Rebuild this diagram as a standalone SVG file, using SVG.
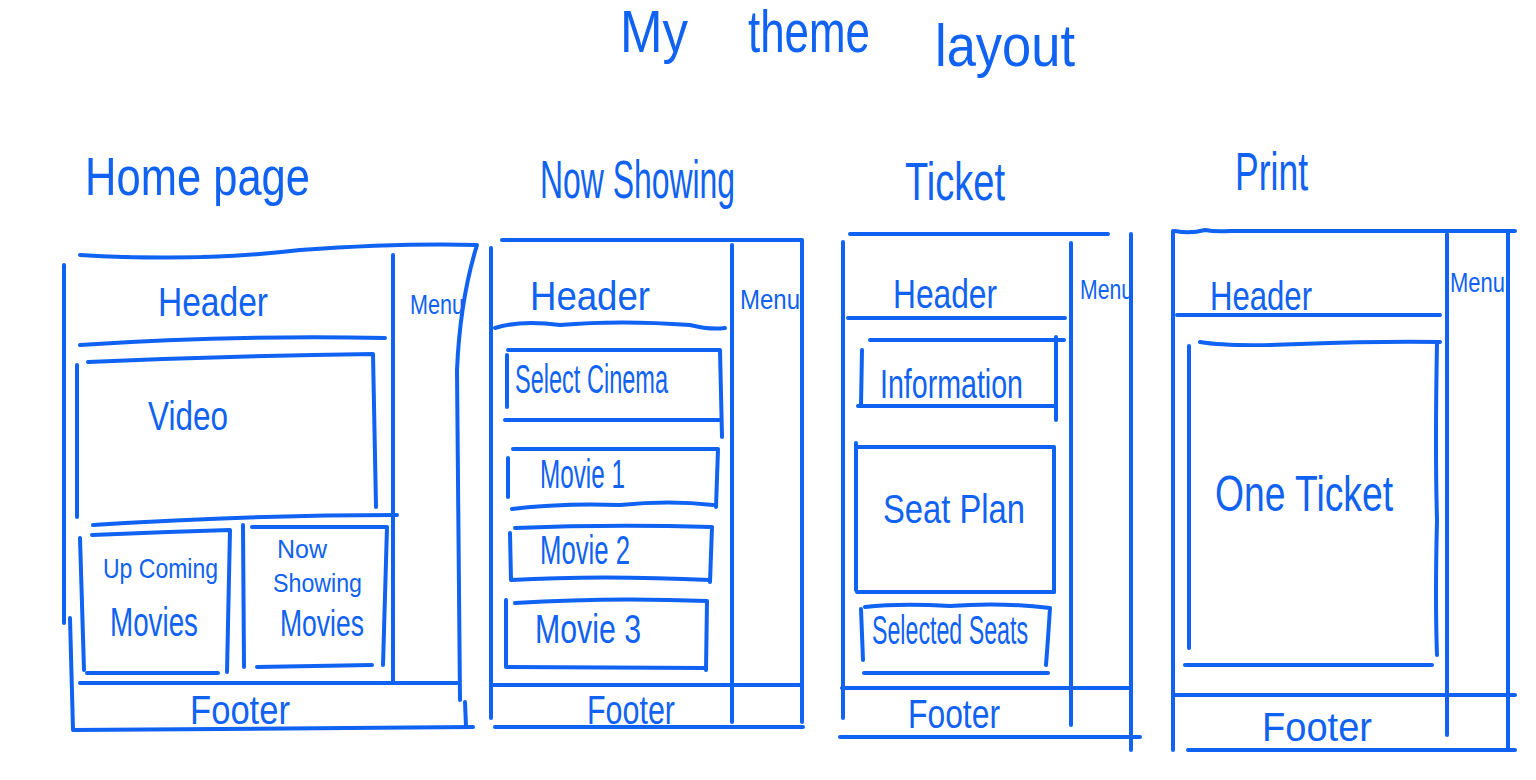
<svg xmlns="http://www.w3.org/2000/svg" width="1536" height="780" viewBox="0 0 1536 780">
  <style>
    .ln { fill: none; stroke: #0f62f2; stroke-width: 4; stroke-linecap: round; stroke-linejoin: round; }
    .tx { fill: #0f62f2; font-family: "Liberation Sans", "DejaVu Sans", sans-serif; }
    .title { font-size: 60px; }
    .page { font-size: 54px; }
    .lbl { font-size: 40px; }
    .sm { font-size: 28px; }
  </style>
  <rect width="1536" height="780" fill="#ffffff"/>

  <!-- Title -->
  <g id="title">
    <text class="tx title" x="620" y="52" textLength="68" lengthAdjust="spacingAndGlyphs">My</text>
    <text class="tx title" x="748" y="52" textLength="122" lengthAdjust="spacingAndGlyphs">theme</text>
    <text class="tx title" x="935" y="66" textLength="140" lengthAdjust="spacingAndGlyphs">layout</text>
  </g>

  <!-- Home page -->
  <g id="home-page">
    <text class="tx page" x="85" y="195" textLength="225" lengthAdjust="spacingAndGlyphs">Home page</text>
    <path class="ln" d="M80 255 Q200 262 300 250 Q400 243 477 245 Q460 300 457 370 L460 700"/>
    <path class="ln" d="M465 702 L466 727"/>
    <path class="ln" d="M64 265 L64 623"/>
    <path class="ln" d="M70 618 L73 730 L473 727"/>
    <path class="ln" d="M393 255 L393 683"/>
    <path class="ln" d="M80 345 Q230 335 385 338"/>
    <text class="tx lbl" x="158" y="316" textLength="110" lengthAdjust="spacingAndGlyphs">Header</text>
    <text class="tx sm" x="410" y="314" textLength="54" lengthAdjust="spacingAndGlyphs">Menu</text>
  </g>
  <g id="home-video">
    <path class="ln" d="M88 362 Q230 356 373 354 L376 507"/>
    <path class="ln" d="M77 365 L77 517"/>
    <text class="tx lbl" x="148" y="430" textLength="80" lengthAdjust="spacingAndGlyphs">Video</text>
    <path class="ln" d="M93 525 Q250 515 397 515"/>
  </g>
  <g id="home-upcoming">
    <path class="ln" d="M92 535 Q160 532 230 530 L227 672"/>
    <path class="ln" d="M80 538 L84 670"/>
    <path class="ln" d="M87 673 L218 673"/>
    <text class="tx sm" x="103" y="578" textLength="115" lengthAdjust="spacingAndGlyphs">Up Coming</text>
    <text class="tx lbl" x="110" y="636" textLength="88" lengthAdjust="spacingAndGlyphs">Movies</text>
  </g>
  <g id="home-nowshowing">
    <path class="ln" d="M252 527 L387 527 L383 665"/>
    <path class="ln" d="M243 525 L244 667"/>
    <path class="ln" d="M257 667 L372 665"/>
    <text class="tx" style="font-size:26px" x="277" y="558" textLength="50" lengthAdjust="spacingAndGlyphs">Now</text>
    <text class="tx" style="font-size:26px" x="273" y="592" textLength="89" lengthAdjust="spacingAndGlyphs">Showing</text>
    <text class="tx" style="font-size:36px" x="280" y="636" textLength="84" lengthAdjust="spacingAndGlyphs">Movies</text>
  </g>
  <g id="home-footer">
    <path class="ln" d="M80 683 L457 683"/>
    <text class="tx lbl" x="190" y="724" textLength="100" lengthAdjust="spacingAndGlyphs">Footer</text>
  </g>

  <!-- Now Showing page -->
  <g id="now-showing-page">
    <text class="tx page" x="540" y="198" textLength="195" lengthAdjust="spacingAndGlyphs">Now Showing</text>
    <path class="ln" d="M502 240 L802 240 L802 722"/>
    <path class="ln" d="M491 248 L491 718"/>
    <path class="ln" d="M732 245 L732 722"/>
    <path class="ln" d="M495 328 Q520 320 560 325 Q620 320 690 325 Q710 330 725 328"/>
    <text class="tx lbl" x="530" y="310" textLength="120" lengthAdjust="spacingAndGlyphs">Header</text>
    <text class="tx sm" x="740" y="309" textLength="60" lengthAdjust="spacingAndGlyphs">Menu</text>
    <path class="ln" d="M492 685 L802 685"/>
    <path class="ln" d="M495 727 L803 727"/>
    <text class="tx lbl" x="587" y="724" textLength="88" lengthAdjust="spacingAndGlyphs">Footer</text>
  </g>
  <g id="ns-select-cinema">
    <path class="ln" d="M508 350 L720 350 L722 437"/>
    <path class="ln" d="M507 355 L507 407"/>
    <path class="ln" d="M505 420 L720 420"/>
    <text class="tx lbl" x="515" y="393" textLength="153" lengthAdjust="spacingAndGlyphs">Select Cinema</text>
  </g>
  <g id="ns-movie-1">
    <path class="ln" d="M513 449 L718 449 L716 507"/>
    <path class="ln" d="M508 458 L508 497"/>
    <path class="ln" d="M512 509 Q560 503 620 505 Q670 500 713 505"/>
    <text class="tx lbl" x="540" y="488" textLength="85" lengthAdjust="spacingAndGlyphs">Movie 1</text>
  </g>
  <g id="ns-movie-2">
    <path class="ln" d="M515 528 Q610 524 712 527 L710 582"/>
    <path class="ln" d="M510 533 L511 580 Q600 575 710 580"/>
    <text class="tx lbl" x="540" y="564" textLength="90" lengthAdjust="spacingAndGlyphs">Movie 2</text>
  </g>
  <g id="ns-movie-3">
    <path class="ln" d="M515 603 Q610 597 707 601 L706 670"/>
    <path class="ln" d="M506 600 L506 667 L705 668"/>
    <text class="tx lbl" x="535" y="643" textLength="106" lengthAdjust="spacingAndGlyphs">Movie 3</text>
  </g>

  <!-- Ticket page -->
  <g id="ticket-page">
    <text class="tx page" x="905" y="200" textLength="100" lengthAdjust="spacingAndGlyphs">Ticket</text>
    <path class="ln" d="M850 234 L1108 234"/>
    <path class="ln" d="M843 242 L843 718"/>
    <path class="ln" d="M1071 243 L1071 725"/>
    <path class="ln" d="M1131 234 L1131 750"/>
    <path class="ln" d="M848 318 L1065 318"/>
    <text class="tx lbl" x="893" y="308" textLength="104" lengthAdjust="spacingAndGlyphs">Header</text>
    <text class="tx sm" x="1080" y="299" textLength="53" lengthAdjust="spacingAndGlyphs">Menu</text>
    <path class="ln" d="M842 688 L1131 688"/>
    <path class="ln" d="M840 737 L1140 737"/>
    <text class="tx lbl" x="908" y="728" textLength="92" lengthAdjust="spacingAndGlyphs">Footer</text>
  </g>
  <g id="ticket-information">
    <path class="ln" d="M870 340 L1064 340"/>
    <path class="ln" d="M1056 337 L1056 420"/>
    <path class="ln" d="M862 350 L861 405"/>
    <path class="ln" d="M858 406 L1055 406"/>
    <text class="tx lbl" x="880" y="398" textLength="143" lengthAdjust="spacingAndGlyphs">Information</text>
  </g>
  <g id="ticket-seat-plan">
    <path class="ln" d="M856 443 L856 590"/>
    <path class="ln" d="M857 447 L1054 447 L1054 592"/>
    <path class="ln" d="M857 592 L1054 592"/>
    <text class="tx lbl" x="883" y="523" textLength="142" lengthAdjust="spacingAndGlyphs">Seat Plan</text>
  </g>
  <g id="ticket-selected-seats">
    <path class="ln" d="M865 607 Q900 603 950 606 Q1000 602 1050 608 Q1048 640 1046 665"/>
    <path class="ln" d="M861 609 L863 660"/>
    <path class="ln" d="M864 673 L1048 673"/>
    <text class="tx lbl" x="872" y="644" textLength="156" lengthAdjust="spacingAndGlyphs">Selected Seats</text>
  </g>

  <!-- Print page -->
  <g id="print-page">
    <text class="tx page" x="1235" y="190" textLength="73" lengthAdjust="spacingAndGlyphs">Print</text>
    <path class="ln" d="M1175 231 Q1190 234 1205 230 Q1215 232 1230 231 L1515 231"/>
    <path class="ln" d="M1173 231 L1173 750"/>
    <path class="ln" d="M1447 234 L1447 735"/>
    <path class="ln" d="M1508 231 L1508 750"/>
    <path class="ln" d="M1177 315 L1440 315"/>
    <text class="tx lbl" x="1210" y="310" textLength="102" lengthAdjust="spacingAndGlyphs">Header</text>
    <text class="tx sm" x="1450" y="292" textLength="55" lengthAdjust="spacingAndGlyphs">Menu</text>
    <path class="ln" d="M1173 695 L1515 695"/>
    <path class="ln" d="M1188 750 L1515 750"/>
    <text class="tx lbl" x="1262" y="741" textLength="110" lengthAdjust="spacingAndGlyphs">Footer</text>
  </g>
  <g id="print-one-ticket">
    <path class="ln" d="M1200 342 Q1230 347 1300 344 Q1380 341 1440 342"/>
    <path class="ln" d="M1437 342 Q1435 450 1437 520 Q1435 600 1437 655"/>
    <path class="ln" d="M1189 346 L1189 648"/>
    <path class="ln" d="M1185 665 L1432 665"/>
    <text class="tx" style="font-size:50px" x="1215" y="511" textLength="178" lengthAdjust="spacingAndGlyphs">One Ticket</text>
  </g>
</svg>
